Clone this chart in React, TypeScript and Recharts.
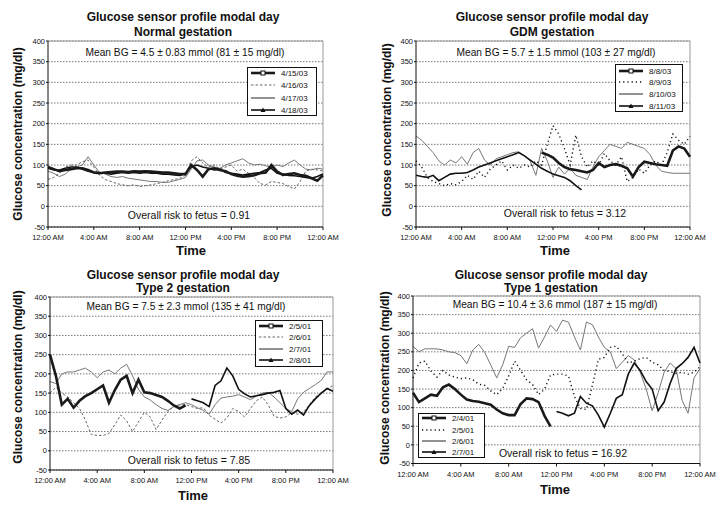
import { CartesianGrid, Line, LineChart, ReferenceLine, XAxis, YAxis } from "recharts";

const FONT = "'Liberation Sans', Arial, Helvetica, sans-serif";

// time of day in hours, sampled every 30 min
const hours = [0, 0.5, 1, 1.5, 2, 2.5, 3, 3.5, 4, 4.5, 5, 5.5, 6, 6.5, 7, 7.5, 8, 8.5, 9, 9.5, 10, 10.5, 11, 11.5, 12, 12.5, 13, 13.5, 14, 14.5, 15, 15.5, 16, 16.5, 17, 17.5, 18, 18.5, 19, 19.5, 20, 20.5, 21, 21.5, 22, 22.5, 23, 23.5, 24];
const timeTicks = [0, 4, 8, 12, 16, 20, 24];
const timeLabels = ["12:00 AM", "4:00 AM", "8:00 AM", "12:00 PM", "4:00 PM", "8:00 PM", "12:00 AM"];
const glucoseTicks = [-50, 0, 50, 100, 150, 200, 250, 300, 350, 400];

// Normal gestation
const normalDays = ["4/15/03", "4/16/03", "4/17/03", "4/18/03"];
const normal0415 = [
  95, 90, 85, 88, 90, 92, 92, 88, 82, 80, 82, 83,
  84, 84, 83, 85, 84, 85, 84, 83, 82, 82, 80, 78,
  78, 100, 88, 72, 90, 92, 88, 85, 78, 74, 72, 73,
  75, 80, 82, 100, 84, 76, 78, 80, 76, 74, 68, 62, 75,
];
const normal0416 = [
  65, 70, 80, 95, 100, 100, 108, 112, 95, 75, 65, 60,
  55, 52, 50, 52, 48, 50, 52, 55, 58, 62, 65, 68,
  75, 110, 120, 105, 95, 100, 90, 95, 100, 85, 90, 80,
  70, 55, 52, 60, 58, 55, 48, 42, 60, 85, 90, 88, 85,
];
const normal0417 = [
  85, 80, 72, 78, 90, 95, 100, 120, 100, 82, 78, 72,
  70, 72, 68, 66, 64, 62, 60, 60, 58, 58, 62, 65,
  70, 90, 110, 112, 100, 95, 92, 100, 105, 110, 115, 105,
  100, 102, 98, 95, 100, 96, 105, 112, 100, 90, 88, 92, 90,
];
const normal0418 = [
  92, 88, 88, 92, 95, 95, 90, 85, 82, 82, 80, 78,
  80, 82, 80, 82, 80, 82, 80, 80, 78, 78, 76, 75,
  80, 95, 100, 95, 92, 88, 90, 82, 80, 78, 76, 78,
  80, 82, 88, 92, 80, 78, 75, 74, 72, 70, 68, 72, 78,
];

// GDM gestation
const gdmDays = ["8/8/03", "8/9/03", "8/10/03", "8/11/03"];
const gdm0808 = [
  null, null, null, null, null, null, null, null, null, null, null, null,
  null, null, null, null, null, null, null, null, null, null, 130, 125,
  118, 105, 95, 90, 88, 85, 82, 88, 105, 95, 100, 102,
  98, 92, 72, 95, 108, 105, 102, 100, 98, 135, 145, 140, 120,
];
const gdm0809 = [
  110, 95, 70, 60, 55, 50, 55, 52, 60, 75, 65, 85,
  70, 90, 100, 110, 88, 100, 92, 100, 95, 110, 100, 150,
  195, 175, 140, 100, 172, 120, 95, 110, 100, 128, 110, 100,
  120, 60, 70, 90, 80, 100, 110, 100, 130, 175, 160, 150, 170,
];
const gdm0810 = [
  170, 160, 145, 130, 110, 100, 112, 105, 120, 102, 130, 140,
  112, 100, 115, 120, 125, 130, 132, 122, 110, 75, 140, 110,
  70, 95, 78, 92, 75, 70, 65, 95, 120, 135, 150, 145,
  140, 155, 150, 145, 140, 125, 100, 85, 82, 80, 80, 80, 80,
];
const gdm0811 = [
  75, 72, 70, 75, 62, 70, 78, 80, 80, 82, 88, 95,
  100, 105, 110, 115, 120, 125, 130, 122, 112, 102, 92, 85,
  78, 74, 70, 62, 50, 40, null, null, null, null, null, null,
  null, null, null, null, null, null, null, null, null, null, null, null, null,
];

// Type 2 gestation
const type2Days = ["2/5/01", "2/6/01", "2/7/01", "2/8/01"];
const type2_0205 = [
  250, 195, 120, 135, 112, 130, 142, 150, 160, 170, 125, 158,
  185, 195, 150, 185, 152, 150, 145, 140, 130, 118, 110, 118,
  null, null, null, null, null, null, null, null, null, null, null, null,
  null, null, null, null, null, null, null, null, null, null, null, null, null,
];
const type2_0206 = [
  150, 165, 150, 140, 125, 110, 80, 42, 40, 40, 45, 68,
  93, 78, 50, 75, 100, 88, 55, 80, 102, 115, 120, 120,
  115, 110, 112, 92, 82, 72, 85, 110, 102, 88, 110, 130,
  140, 120, 90, 85, 88, 100, 95, 100, 120, 140, 150, 160, 170,
];
const type2_0207 = [
  180, 175, 200, 205, 205, 210, 215, 205, 190, 205, 210, 200,
  215, 225, 195, 160, 140, 132, 120, 110, 105, 115, 120, 125,
  120, 112, 105, 95, 120, 137, 140, 142, 146, 140, 133, 142,
  150, 152, 140, 125, 110, 102, 135, 152, 162, 172, 183, 205, 205,
];
const type2_0208 = [
  null, null, null, null, null, null, null, null, null, null, null, null,
  null, null, null, null, null, null, null, null, null, null, null, null,
  135, 130, 125, 115, 170, 182, 215, 195, 160, 148, 140, 143,
  146, 150, 152, 157, 110, 95, 106, 93, 118, 135, 150, 162, 155,
];

// Type 1 gestation
const type1Days = ["2/4/01", "2/5/01", "2/6/01", "2/7/01"];
const type1_0204 = [
  140, 115, 125, 135, 132, 155, 162, 150, 135, 122, 118, 116,
  112, 108, 95, 85, 80, 80, 110, 125, 123, 115, 78, 50,
  null, null, null, null, null, null, null, null, null, null, null, null,
  null, null, null, null, null, null, null, null, null, null, null, null, null,
];
const type1_0205 = [
  180, 220, 225, 198, 182, 200, 188, 182, 178, 180, 175, 163,
  160, 145, 135, 152, 185, 225, 200, 175, 162, 135, 150, 188,
  190, 190, 185, 130, 98, 95, 160, 230, 235, 262, 265, 245,
  220, 225, 232, 235, 222, 215, 200, 197, 192, 195, 190, 195, 210,
];
const type1_0206 = [
  265, 250, 258, 258, 258, 255, 250, 248, 240, 218, 255, 270,
  248, 215, 180, 215, 265, 262, 288, 300, 312, 260, 290, 322,
  305, 335, 330, 290, 255, 330, 323, 290, 262, 250, 205, 222,
  240, 228, 195, 150, 92, 140, 195, 220, 205, 120, 85, 180, 205,
];
const type1_0207 = [
  null, null, null, null, null, null, null, null, null, null, null, null,
  null, null, null, null, null, null, null, null, null, null, null, null,
  90, 85, 78, 85, 130, 112, 105, 80, 48, 85, 125, 135,
  190, 220, 200, 170, 150, 92, 115, 165, 205, 218, 235, 262, 220,
];

type Spec = {
  box: number[];
  plot: number[];
  days: string[];
  series: (number | null)[][];
  dotted: boolean;
  title: string;
  titleAt: number[];
  mean: string;
  meanAt: number[];
  risk: string;
  riskAt: number[];
  yLabelAt: number[];
  timeAt: number[];
  legend: number[];
  rows: number[];
};

const panels: Spec[] = [
  {
    box: [0, 0, 360, 253], plot: [48, 323, 41, 227],
    days: normalDays, series: [normal0415, normal0416, normal0417, normal0418], dotted: false,
    title: "Normal gestation", titleAt: [183, 17, 32],
    mean: "Mean BG = 4.5 ± 0.83 mmol (81 ± 15 mg/dl)", meanAt: [185, 53],
    risk: "Overall risk to fetus = 0.91", riskAt: [189, 215],
    yLabelAt: [18, 134], timeAt: [191, 250],
    legend: [247, 67, 70, 49], rows: [73, 85.5, 98, 110.5],
  },
  {
    box: [359, 0, 360, 253], plot: [416, 690, 41, 227],
    days: gdmDays, series: [gdm0808, gdm0809, gdm0810, gdm0811], dotted: true,
    title: "GDM gestation", titleAt: [552, 17, 32],
    mean: "Mean BG = 5.7 ± 1.5 mmol (103 ± 27 mg/dl)", meanAt: [556, 53],
    risk: "Overall risk to fetus = 3.12", riskAt: [565, 213],
    yLabelAt: [387, 130], timeAt: [555, 250],
    legend: [615, 64, 68, 48], rows: [71, 82.5, 94, 106],
  },
  {
    box: [0, 253, 360, 254], plot: [50, 333, 297, 470],
    days: type2Days, series: [type2_0205, type2_0206, type2_0207, type2_0208], dotted: false,
    title: "Type 2 gestation", titleAt: [183, 275, 288],
    mean: "Mean BG = 7.5 ± 2.3 mmol (135 ± 41 mg/dl)", meanAt: [186, 307],
    risk: "Overall risk to fetus = 7.85", riskAt: [189, 460],
    yLabelAt: [18, 377], timeAt: [193, 495],
    legend: [255, 320, 68, 47], rows: [326, 337.5, 349, 360],
  },
  {
    box: [359, 253, 360, 254], plot: [413, 700, 296, 463.5],
    days: type1Days, series: [type1_0204, type1_0205, type1_0206, type1_0207], dotted: true,
    title: "Type 1 gestation", titleAt: [551, 275, 288],
    mean: "Mean BG = 10.4 ± 3.6 mmol (187 ± 15 mg/dl)", meanAt: [555, 305],
    risk: "Overall risk to fetus = 16.92", riskAt: [563, 453],
    yLabelAt: [385, 378], timeAt: [555, 489],
    legend: [418, 413, 67, 45], rows: [418.5, 430, 441, 452],
  },
];

function lineStyle(k: number, dotted: boolean) {
  if (k === 0) return { stroke: "#1a1a1a", strokeWidth: 2.6 };
  if (k === 1)
    return dotted
      ? { stroke: "#111", strokeWidth: 1.4, strokeDasharray: "1.2 3" }
      : { stroke: "#666", strokeWidth: 1, strokeDasharray: "2.5 2" };
  if (k === 2) return { stroke: "#777", strokeWidth: 1 };
  return { stroke: "#111", strokeWidth: 1.6 };
}

function Txt({ x, y, size, bold, rotate, children }: any) {
  return (
    <div
      style={{
        position: "absolute",
        left: x,
        top: y,
        transform: `translate(-50%, -50%)${rotate ? " rotate(-90deg)" : ""}`,
        fontSize: size,
        fontWeight: bold ? 700 : 400,
        whiteSpace: "nowrap",
        lineHeight: 1,
        color: "#111",
      }}
    >
      {children}
    </div>
  );
}

function LegendBox({ p }: { p: Spec }) {
  const [lx, ly, lw, lh] = p.legend;
  return (
    <div
      style={{
        position: "absolute",
        left: lx,
        top: ly,
        width: lw,
        height: lh,
        border: "1.5px solid #111",
        background: "#fff",
        boxSizing: "border-box",
      }}
    >
      {p.days.map((d, k) => (
        <div key={d} style={{ position: "absolute", left: 0, top: p.rows[k] - ly - 6.5, height: 10, width: lw }}>
          <svg width={26} height={10} style={{ position: "absolute", left: 3, top: 0 }}>
            <line x1={0} x2={24} y1={5} y2={5} {...lineStyle(k, p.dotted)} strokeWidth={k === 2 ? 1.6 : lineStyle(k, p.dotted).strokeWidth} />
            {k === 0 && <rect x={10} y={3} width={4} height={4} fill="#fff" stroke="#111" strokeWidth={1} />}
            {k === 3 && <path d="M12 2.5 L14.5 7 L9.5 7 Z" fill="#111" />}
          </svg>
          <span style={{ position: "absolute", left: 33, top: 1, fontSize: 8, lineHeight: "10px", color: "#111" }}>{d}</span>
        </div>
      ))}
    </div>
  );
}

function Panel({ p }: { p: Spec }) {
  const [bx, by, bw, bh] = p.box;
  const [pl, pr, pt, pb] = p.plot;
  const yAxisW = 30;
  const xAxisH = 20;
  const margin = { left: pl - bx - yAxisW, right: bx + bw - pr, top: pt - by, bottom: by + bh - pb - xAxisH };
  const data = hours.map((t, i) => ({ t, s0: p.series[0][i], s1: p.series[1][i], s2: p.series[2][i], s3: p.series[3][i] }));

  return (
    <>
      <div style={{ position: "absolute", left: bx, top: by }}>
        <LineChart width={bw} height={bh} data={data} margin={margin}>
          <CartesianGrid vertical={false} stroke="#777" strokeDasharray="1.5 1.5" />
          <XAxis
            dataKey="t"
            type="number"
            domain={[0, 24]}
            ticks={timeTicks}
            interval={0}
            height={xAxisH}
            tickFormatter={(v: number) => timeLabels[timeTicks.indexOf(v)]}
            tick={{ fontSize: 7.5, fill: "#111", fontFamily: FONT }}
            tickSize={3}
            tickMargin={5}
            axisLine={{ stroke: "#111" }}
            tickLine={{ stroke: "#111" }}
          />
          <YAxis
            type="number"
            domain={[-50, 400]}
            ticks={glucoseTicks}
            interval={0}
            width={yAxisW}
            tick={{ fontSize: 7.5, fill: "#111", fontFamily: FONT }}
            tickSize={2}
            tickMargin={1}
            axisLine={{ stroke: "#111" }}
            tickLine={{ stroke: "#111" }}
          />
          <ReferenceLine y={400} stroke="#999" />
          <ReferenceLine x={24} stroke="#999" />
          {[2, 1, 3, 0].map((k) => (
            <Line
              key={k}
              dataKey={`s${k}`}
              type="linear"
              dot={false}
              activeDot={false}
              connectNulls={false}
              isAnimationActive={false}
              {...lineStyle(k, p.dotted)}
            />
          ))}
        </LineChart>
      </div>
      <Txt x={p.titleAt[0]} y={p.titleAt[1]} size={12} bold>Glucose sensor profile modal day</Txt>
      <Txt x={p.titleAt[0]} y={p.titleAt[2]} size={12} bold>{p.title}</Txt>
      <Txt x={p.meanAt[0]} y={p.meanAt[1]} size={10.2}>{p.mean}</Txt>
      <Txt x={p.riskAt[0]} y={p.riskAt[1]} size={10.5}>{p.risk}</Txt>
      <Txt x={p.yLabelAt[0]} y={p.yLabelAt[1]} size={12} bold rotate>Glucose concentration (mg/dl)</Txt>
      <Txt x={p.timeAt[0]} y={p.timeAt[1]} size={13} bold>Time</Txt>
      <LegendBox p={p} />
    </>
  );
}

export default function App() {
  return (
    <div
      style={{
        position: "absolute",
        left: 0,
        top: 0,
        width: 719,
        height: 507,
        background: "#fff",
        fontFamily: FONT,
        overflow: "hidden",
      }}
    >
      {panels.map((p) => (
        <Panel key={p.title} p={p} />
      ))}
    </div>
  );
}
